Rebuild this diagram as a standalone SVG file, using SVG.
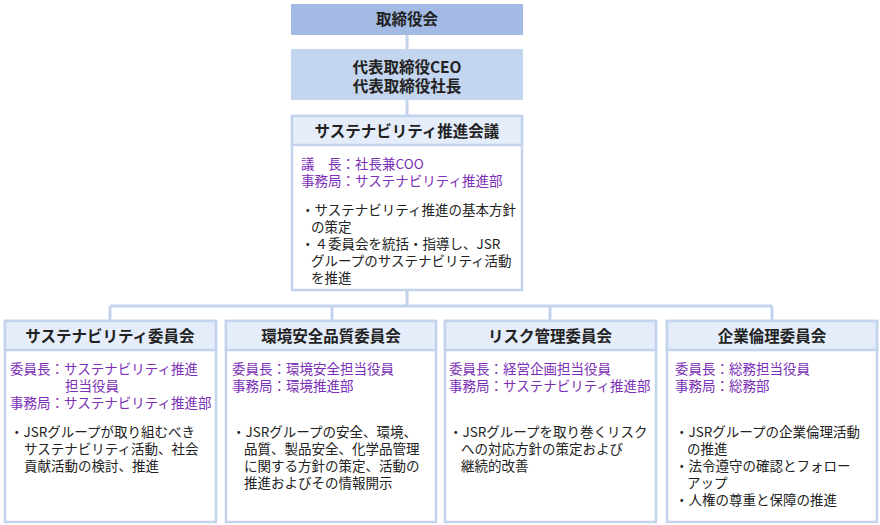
<svg xmlns="http://www.w3.org/2000/svg" width="880" height="525" viewBox="0 0 880 525">
<style>
text{font-family:"Noto Sans CJK JP","Noto Sans",sans-serif;font-size:13.5px;fill:#222}
.h{font-size:15.5px;font-weight:bold;text-anchor:middle}
.p{fill:#7b2fb6}
.box{fill:#fff;stroke:#c3d3ee;stroke-width:2.5}
.hd{fill:#e4edf9;stroke:#c3d3ee;stroke-width:2.5}
.ln{stroke:#c3d3ee;stroke-width:3;fill:none}
</style>
<rect width="880" height="525" fill="#fff"/>
<g id="connectors">
<path class="ln" d="M407 35V49M407 100V116M407 290V306M110 306H772M110 306V321M332 306V321M550 306V321M772 306V321"/>
</g>
<g id="board">
<rect x="291" y="4" width="232" height="31" fill="#a3bbe4"/>
<text class="h" x="407" y="25">取締役会</text>
</g>
<g id="ceo">
<rect x="291" y="49" width="232" height="51" fill="#c4d5ef"/>
<text class="h" x="407" y="73">代表取締役CEO</text>
<text class="h" x="407" y="92">代表取締役社長</text>
</g>
<g id="council">
<rect class="box" x="292" y="116" width="230" height="174"/>
<rect class="hd" x="292" y="116" width="230" height="29"/>
<text class="h" x="407" y="137">サステナビリティ推進会議</text>
<text class="p" x="301" y="169">議　長：社長兼COO</text>
<text class="p" x="301" y="186">事務局：サステナビリティ推進部</text>
<text x="301" y="215">・サステナビリティ推進の基本方針</text>
<text x="311" y="232">の策定</text>
<text x="301" y="249">・４委員会を統括・指導し、JSR</text>
<text x="311" y="266">グループのサステナビリティ活動</text>
<text x="311" y="283">を推進</text>
</g>
<g id="c1">
<rect class="box" x="5" y="321" width="211" height="201"/>
<rect class="hd" x="5" y="321" width="211" height="29"/>
<text class="h" x="110" y="342">サステナビリティ委員会</text>
<text class="p" x="10" y="374">委員長：サステナビリティ推進</text>
<text class="p" x="65" y="391">担当役員</text>
<text class="p" x="10" y="408">事務局：サステナビリティ推進部</text>
<text x="10" y="437">・JSRグループが取り組むべき</text>
<text x="24" y="454">サステナビリティ活動、社会</text>
<text x="24" y="471">貢献活動の検討、推進</text>
</g>
<g id="c2">
<rect class="box" x="226" y="321" width="210" height="201"/>
<rect class="hd" x="226" y="321" width="210" height="29"/>
<text class="h" x="331" y="342">環境安全品質委員会</text>
<text class="p" x="232" y="374">委員長：環境安全担当役員</text>
<text class="p" x="232" y="391">事務局：環境推進部</text>
<text x="232" y="437">・JSRグループの安全、環境、</text>
<text x="244" y="454">品質、製品安全、化学品管理</text>
<text x="244" y="471">に関する方針の策定、活動の</text>
<text x="244" y="488">推進およびその情報開示</text>
</g>
<g id="c3">
<rect class="box" x="445" y="321" width="211" height="201"/>
<rect class="hd" x="445" y="321" width="211" height="29"/>
<text class="h" x="550" y="342">リスク管理委員会</text>
<text class="p" x="449" y="374">委員長：経営企画担当役員</text>
<text class="p" x="449" y="391">事務局：サステナビリティ推進部</text>
<text x="449" y="437">・JSRグループを取り巻くリスク</text>
<text x="461" y="454">への対応方針の策定および</text>
<text x="461" y="471">継続的改善</text>
</g>
<g id="c4">
<rect class="box" x="667" y="321" width="210" height="201"/>
<rect class="hd" x="667" y="321" width="210" height="29"/>
<text class="h" x="772" y="342">企業倫理委員会</text>
<text class="p" x="675" y="374">委員長：総務担当役員</text>
<text class="p" x="675" y="391">事務局：総務部</text>
<text x="675" y="437">・JSRグループの企業倫理活動</text>
<text x="687" y="454">の推進</text>
<text x="675" y="471">・法令遵守の確認とフォロー</text>
<text x="687" y="488">アップ</text>
<text x="675" y="505">・人権の尊重と保障の推進</text>
</g>
</svg>
